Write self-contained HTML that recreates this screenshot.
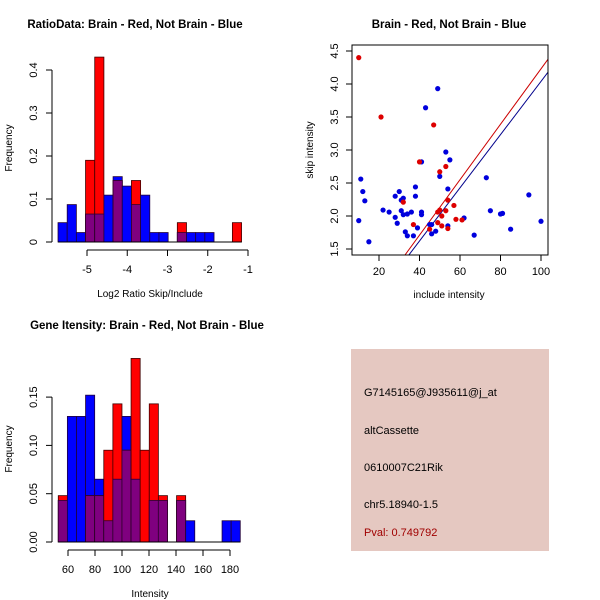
<!DOCTYPE html>
<html><head><meta charset="utf-8"><style>
body{margin:0;background:#fff}
svg{display:block;font-family:"Liberation Sans",sans-serif}
</style></head><body>
<svg id="c" width="600" height="600" viewBox="0 0 600 600">
<text x="135" y="28" text-anchor="middle" font-size="11.5" font-weight="bold">RatioData: Brain - Red, Not Brain - Blue</text>
<text x="449" y="28" text-anchor="middle" font-size="11.5" font-weight="bold">Brain - Red, Not Brain - Blue</text>
<text x="147" y="329" text-anchor="middle" font-size="11.5" font-weight="bold">Gene Itensity: Brain - Red, Not Brain - Blue</text>
<g>
<rect x="351" y="349" width="198" height="202" fill="#e5c8c1"/>
<text x="364" y="396" font-size="11">G7145165@J935611@j_at</text>
<text x="364" y="434" font-size="11">altCassette</text>
<text x="364" y="471" font-size="11">0610007C21Rik</text>
<text x="364" y="508" font-size="11">chr5.18940-1.5</text>
<text x="364" y="536" font-size="11" fill="#a00000">Pval: 0.749792</text>
</g>
</svg>
<script>
// Ratio histogram data
const ratioStart=-5.72, ratioWidth=0.228;
const ratioBlue=[0.045,0.087,0.022,0.065,0.065,0.109,0.152,0.13,0.087,0.109,0.022,0.022,0,0.022,0.022,0.022,0.022,0,0,0];
const ratioRed=[0,0,0,0.19,0.43,0,0.143,0,0.143,0,0,0,0,0.045,0,0,0,0,0,0.045];
const ratioXTicks=[-5,-4,-3,-2,-1];
const ratioYTicks=[0,0.1,0.2,0.3,0.4];
// Gene intensity histogram data
const geneStart=52.8, geneWidth=6.74;
const geneBlue=[0.043,0.13,0.13,0.152,0.065,0.022,0.065,0.13,0.065,0,0.043,0.043,0,0.043,0.022,0,0,0,0.022,0.022];
const geneRed=[0.048,0,0,0.048,0.048,0.095,0.143,0.095,0.19,0.095,0.143,0.048,0,0.048,0,0,0,0,0,0];
const geneXTicks=[60,80,100,120,140,160,180];
const geneYTicks=[0,0.05,0.10,0.15];
const geneYLabels=["0.00","0.05","0.10","0.15"];
// Scatter data
const blueInc=[10,11,12,13,15,22,25,28,28,29,30,31,32,31,32,33,34,34,36,37,38,38,39,41,41,41,43,45,46,46,48,49,50,53,54,54,55,62,67,73,75,80,81,85,94,100];
const blueSkip=[1.93,2.56,2.37,2.23,1.61,2.09,2.06,2.3,1.98,1.89,2.37,2.24,2.27,2.08,2.02,1.76,2.03,1.7,2.06,1.7,2.44,2.3,1.82,2.82,2.06,2.02,3.64,1.87,1.73,1.87,1.77,3.93,2.6,2.97,2.41,1.85,2.85,1.97,1.71,2.58,2.08,2.03,2.04,1.8,2.32,1.92];
const redInc=[10,21,32,37,40,45,47,49,49,50,50,51,51,53,53,54,54,57,58,61];
const redSkip=[4.4,3.5,2.21,1.87,2.82,1.8,3.38,1.9,2.06,2.67,2.09,2.0,1.85,2.08,2.75,1.81,2.24,2.16,1.95,1.94];
const redLine=[0.03,0.042];
const blueLine=[0.009,0.0403];
const scXTicks=[20,40,60,80,100];
const scYTicks=[1.5,2.0,2.5,3.0,3.5,4.0,4.5];

const svg=document.getElementById('c');
const NS='http://www.w3.org/2000/svg';
function mk(tag,at,parent){const e=document.createElementNS(NS,tag);for(const k in at)e.setAttribute(k,at[k]);(parent||svg).appendChild(e);return e;}

function hist(cfg){
  const g=mk('g',{});
  
  
  const X=v=>cfg.x0px+(v-cfg.x0)*cfg.xs, Y=v=>cfg.y0px-v*cfg.ys;
  for(let i=0;i<cfg.blue.length;i++){
    const b=cfg.blue[i], r=cfg.red[i], m=Math.min(b,r);
    const xl=X(cfg.start+i*cfg.w), xr=X(cfg.start+(i+1)*cfg.w);
    if(b>0){const e=mk('rect',{x:xl,y:Y(b),width:xr-xl,height:Y(0)-Y(b),fill:'#0000ff',stroke:'#20003a','stroke-width':0.8},g);
      
      }
    if(r>0){const e=mk('rect',{x:xl,y:Y(r),width:xr-xl,height:Y(0)-Y(r),fill:'#ff0000',stroke:'#400000','stroke-width':0.8},g);
      
      }
    if(m>0){const e=mk('rect',{x:xl,y:Y(m),width:xr-xl,height:Y(0)-Y(m),fill:'#7f007f',stroke:'#300030','stroke-width':0.8},g);
      
      }
  }
  mk('line',{x1:X(cfg.start),x2:X(cfg.start+cfg.blue.length*cfg.w),y1:Y(0),y2:Y(0),stroke:'#000'},g);
  const xa=mk('g',{},g);
  
  
  const ay=cfg.y0px+8;
  mk('line',{x1:X(cfg.xt[0]),x2:X(cfg.xt[cfg.xt.length-1]),y1:ay,y2:ay,stroke:'#000'},xa);
  cfg.xt.forEach(t=>{mk('line',{x1:X(t),x2:X(t),y1:ay,y2:ay+6,stroke:'#000'},xa);
    const tx=mk('text',{x:X(t),y:ay+23,'text-anchor':'middle','font-size':11},xa);tx.textContent=t;});
  const ya=mk('g',{},g);
  
  
  const axx=52;
  mk('line',{x1:axx,x2:axx,y1:Y(cfg.yt[0]),y2:Y(cfg.yt[cfg.yt.length-1]),stroke:'#000'},ya);
  cfg.yt.forEach((t,i)=>{mk('line',{x1:axx-6,x2:axx,y1:Y(t),y2:Y(t),stroke:'#000'},ya);
    const tx=mk('text',{x:axx-15,y:Y(t),'text-anchor':'middle','font-size':11,transform:`rotate(-90 ${axx-15} ${Y(t)})`},ya);tx.textContent=cfg.yl[i];});
  const xt=mk('text',{x:cfg.xlabX,y:cfg.y0px+55,'text-anchor':'middle','font-size':10},g);xt.textContent=cfg.xlab;
  
  
  const yt=mk('text',{x:12,y:cfg.ylabY,'text-anchor':'middle','font-size':10,transform:`rotate(-90 12 ${cfg.ylabY})`},g);yt.textContent='Frequency';
  
  
}
hist({name:'ratio-histogram',blue:ratioBlue,red:ratioRed,start:ratioStart,w:ratioWidth,x0:-5,x0px:87,xs:40.25,y0px:242,ys:430,
  xt:ratioXTicks,yt:ratioYTicks,yl:ratioYTicks.map(String),xlab:'Log2 Ratio Skip/Include',xlabX:150,ylabY:148});
hist({name:'gene-intensity-histogram',blue:geneBlue,red:geneRed,start:geneStart,w:geneWidth,x0:60,x0px:68,xs:1.35,y0px:542,ys:966,
  xt:geneXTicks,yt:geneYTicks,yl:geneYLabels,xlab:'Intensity',xlabX:150,ylabY:449});

(function(){
  const g=mk('g',{});
  
  
  const X=v=>379+(v-20)*2.025, Y=v=>249-(v-1.5)*66;
  const L=352,R=548,T=45,B=255;
  mk('clipPath',{id:'sc'},g);
  mk('rect',{x:L,y:T,width:R-L,height:B-T},g.lastChild);
  [[redLine,'#cc0000'],[blueLine,'#00008b']].forEach(([ln,c])=>{
    const x1=(1.5-ln[0])/ln[1]-3, x2=110;
    const e=mk('line',{x1:X(x1),y1:Y(ln[0]+ln[1]*x1),x2:X(x2),y2:Y(ln[0]+ln[1]*x2),stroke:c,'stroke-width':1,'clip-path':'url(#sc)'},g);
    
    
  });
  blueInc.forEach((v,i)=>{const e=mk('circle',{cx:X(v),cy:Y(blueSkip[i]),r:2.6,fill:'#0000dd'},g);
    
    });
  redInc.forEach((v,i)=>{const e=mk('circle',{cx:X(v),cy:Y(redSkip[i]),r:2.6,fill:'#dd0000'},g);
    
    });
  mk('rect',{x:L,y:T,width:R-L,height:B-T,fill:'none',stroke:'#000'},g);
  const xa=mk('g',{},g);
  
  
  scXTicks.forEach(t=>{mk('line',{x1:X(t),x2:X(t),y1:B,y2:B+6,stroke:'#000'},xa);
    const tx=mk('text',{x:X(t),y:B+20,'text-anchor':'middle','font-size':11},xa);tx.textContent=t;});
  const ya=mk('g',{},g);
  
  
  scYTicks.forEach(t=>{mk('line',{x1:L-6,x2:L,y1:Y(t),y2:Y(t),stroke:'#000'},ya);
    const tx=mk('text',{x:L-14,y:Y(t),'text-anchor':'middle','font-size':11,transform:`rotate(-90 ${L-14} ${Y(t)})`},ya);tx.textContent=t.toFixed(1);});
  const xt=mk('text',{x:449,y:298,'text-anchor':'middle','font-size':10},g);xt.textContent='include intensity';
  
  
  const yt=mk('text',{x:313,y:150,'text-anchor':'middle','font-size':10,transform:'rotate(-90 313 150)'},g);yt.textContent='skip intensity';
  
  
})();
</script>
</body></html>
